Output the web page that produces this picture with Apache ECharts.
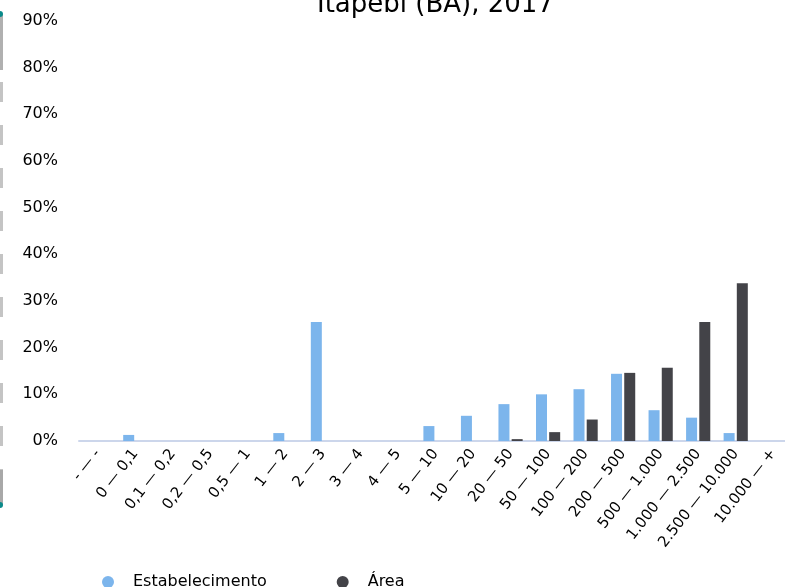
<!DOCTYPE html>
<html>
<head>
<meta charset="utf-8">
<script src="https://cdn.jsdelivr.net/npm/echarts@6/dist/echarts.min.js"></script>
<style>
  html, body { margin: 0; padding: 0; background: #fff; }
  #main { width: 785px; height: 587px; }
</style>
</head>
<body>
<div id="main"></div>
<script>
var categories = ['- — -', '0 — 0,1', '0,1 — 0,2', '0,2 — 0,5', '0,5 — 1', '1 — 2', '2 — 3',
    '3 — 4', '4 — 5', '5 — 10', '10 — 20', '20 — 50', '50 — 100', '100 — 200', '200 — 500',
    '500 — 1.000', '1.000 — 2.500', '2.500 — 10.000', '10.000 — +'];
var estabelecimento = [0, 1.3, 0, 0, 0, 1.7, 25.5, 0, 0, 3.2, 5.4, 7.9, 10.0, 11.1, 14.4, 6.6, 5.0, 1.7, 0];
var area = [0, 0, 0, 0, 0, 0, 0, 0, 0, 0, 0, 0.4, 1.9, 4.6, 14.6, 15.7, 25.5, 33.8, 0];
var seriesNames = ['Estabelecimento', 'Área'];

var myChart = echarts.init(document.getElementById('main'));

var font = 'DejaVu Sans';

var option = {
    animation: false,
    color: ['#7cb5ec', '#434348'],
    title: {
        text: 'Itapebi (BA), 2017',
        left: 312,
        top: -13,
        textStyle: { fontFamily: font, fontSize: 26, fontWeight: 'normal', color: '#000' }
    },
    legend: {
        data: seriesNames,
        left: 97,
        top: 569,
        icon: 'circle',
        itemWidth: 12,
        itemHeight: 12,
        itemGap: 70,
        textStyle: { fontFamily: font, fontSize: 16, color: '#000', padding: [0, 0, 0, 14] }
    },
    grid: {
        left: 79,
        right: -7,
        top: 21,
        bottom: 146,
        containLabel: false,
        outerBoundsMode: 'none'
    },
    xAxis: {
        type: 'category',
        data: categories,
        axisLine: { lineStyle: { color: '#ccd6eb', width: 2 } },
        axisTick: { show: false },
        axisLabel: {
            rotate: 52,
            interval: 0,
            margin: 10,
            fontFamily: font,
            fontSize: 15,
            color: '#000'
        }
    },
    yAxis: {
        type: 'value',
        min: 0,
        max: 90,
        interval: 10,
        axisLine: { show: false },
        axisTick: { show: false },
        splitLine: { show: false },
        axisLabel: {
            formatter: '{value}%',
            margin: 21,
            fontFamily: font,
            fontSize: 16,
            color: '#000'
        }
    },
    graphic: [
        {
            type: 'line',
            shape: { x1: 1.5, y1: 82, x2: 1.5, y2: 470 },
            style: { stroke: '#c4c4c4', lineWidth: 3, lineDash: [20, 23] }
        },
        {
            type: 'rect',
            shape: { x: 0, y: 14, width: 3, height: 56 },
            style: { fill: '#b0b0b0' }
        },
        {
            type: 'rect',
            shape: { x: 0, y: 470, width: 3, height: 35 },
            style: { fill: '#a8a8a8' }
        },
        {
            type: 'circle',
            shape: { cx: 0, cy: 14, r: 3 },
            style: { fill: '#0a8a8a' }
        },
        {
            type: 'circle',
            shape: { cx: 0, cy: 505, r: 3 },
            style: { fill: '#0a8a8a' }
        }
    ],
    series: [
        {
            name: seriesNames[0],
            type: 'bar',
            data: estabelecimento,
            barWidth: 11,
            barGap: '20%'
        },
        {
            name: seriesNames[1],
            type: 'bar',
            data: area,
            barWidth: 11,
            barGap: '20%'
        }
    ]
};

myChart.setOption(option);
</script>
</body>
</html>
